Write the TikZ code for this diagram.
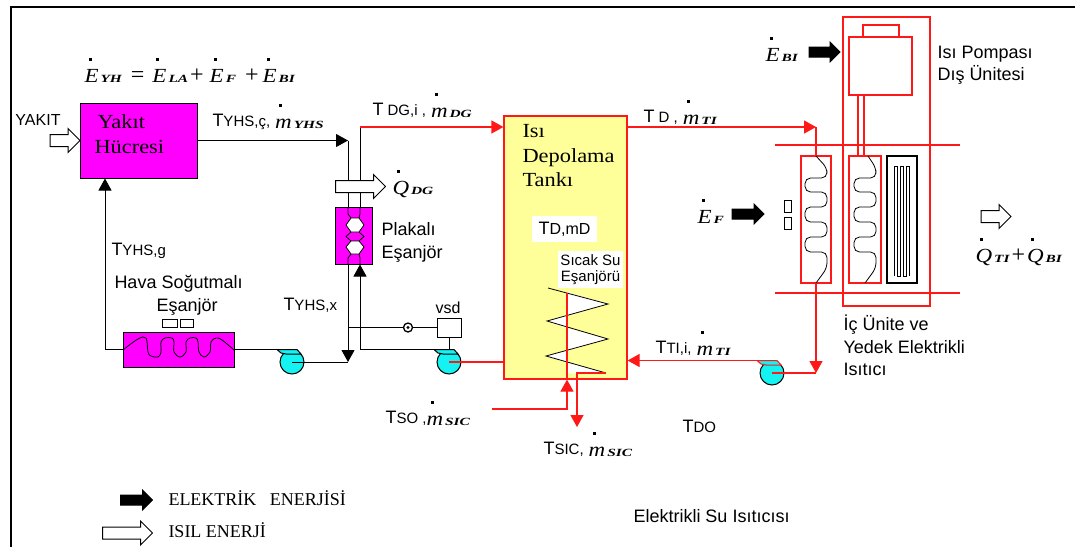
\documentclass[tikz,border=0pt]{standalone}
\usepackage{fontspec}
\setmainfont{Liberation Serif}
\setsansfont{Liberation Sans}
\newfontfamily\widefont[FakeStretch=1.12]{Liberation Serif}
\newfontface\letterfont[FakeStretch=1.15]{Liberation Serif Italic}
\newfontface\subfont[FakeStretch=1.4]{Liberation Serif Bold Italic}
\usepackage{tikz}
\usetikzlibrary{arrows.meta,shapes.arrows}
\definecolor{cellmag}{HTML}{FF00FF}
\definecolor{tankyel}{HTML}{FFFF99}
\definecolor{pumpcy}{HTML}{14F2F2}
\definecolor{hotred}{HTML}{FF1818}
\newcommand{\sz}[1]{\fontsize{#1}{#1}\selectfont}
\newcommand{\rate}[2]{\rlap{\hspace{4pt}\raisebox{21.5pt}{\rule{3pt}{3pt}}}{\letterfont\sz{20}#1}\hspace{2pt}{\subfont\sz{11}#2}}
\newcommand{\mrate}[1]{\raisebox{-2pt}{\rate{m}{#1}}}
\newcommand{\tmp}[1]{{\sz{18}T}{\sz{15}#1}}
\newcommand{\op}[1]{{\rmfamily\sz{24}#1}}
\newcommand{\pump}[4]{%
  \node[pumpbody] (#1) at (#2,#3) {};
  \draw[draw=#4, fill=pumpcy] (#2-15,#3-12.5) -- (#2+5,#3-12.5) -- (#2+9,#3-8) -- (#2-6,#3-8) -- (#2-11,#3-9) -- cycle;
  \coordinate (#1in) at (#2-15,#3-12.5);
}
\newcommand{\coil}[2]{%
  \draw[coilline, rounded corners=5.5pt] (#2,156) -- (#1+11,168) -- (#1+11,178) -- (#1-11,178) -- (#1-11,192) -- (#1+11,192) -- (#1+11,207) -- (#1-11,207) -- (#1-11,222) -- (#1+11,222) -- (#1+11,237) -- (#1-11,237) -- (#1-11,252) -- (#1+11,252) -- (#1+11,268) -- (#1,283);
}

\begin{document}
\begin{tikzpicture}[
  x=1pt, y=-1pt,
  line width=1pt,
  lbl/.style={anchor=base west, inner sep=0pt, font=\sffamily\sz{18}},
  serif/.style={anchor=base west, inner sep=0pt, font=\widefont\sz{20}},
  box/.style={rectangle, draw, inner sep=0pt},
  magbox/.style={box, fill=cellmag},
  redbox/.style={box, draw=hotred, line width=1.2pt},
  flow/.style={draw=black},
  hot/.style={draw=hotred, line width=1.2pt},
  wall/.style={hotred, line width=1.2pt},
  coilline/.style={draw=black, line width=0.8pt},
  pumpbody/.style={circle, draw, fill=pumpcy, minimum size=24pt, inner sep=0pt},
  power/.style={single arrow, draw, fill=black, inner sep=0pt, text height=9pt, text depth=0pt, single arrow head extend=5pt},
  heat/.style={single arrow, draw, fill=white, inner sep=0pt, text height=11pt, text depth=0pt, single arrow head extend=6pt},
  >={Triangle[length=12pt,width=13pt]}
]
\useasboundingbox (0,0) rectangle (1075,547);
\draw[line width=2pt] (1075,6.5) -- (10.5,6.5) -- (10.5,547);

% fuel cell and its loop
\node[magbox, minimum width=117pt, minimum height=75pt] (cell) at (138.5,140.5) {};
\node[serif] (cellA) at (97,128) {Yakıt};
\node[serif] (cellB) at (94,153) {Hücresi};
\node[heat, minimum height=30pt] (fuel) at (62,140.5) {};
\node[lbl, font=\sffamily\sz{16}] (fuellbl) at (15,125) {YAKIT};
\node[inner sep=0pt, anchor=base west] (bal) at (84,82) {\rate{E}{YH}\hspace{9pt}\op{=}\hspace{8pt}\rate{E}{LA}\hspace{2pt}\op{+}\hspace{6pt}\rate{E}{F}\hspace{9pt}\op{+}\hspace{4pt}\rate{E}{BI}};

\node[magbox, minimum width=111pt, minimum height=35pt] (airex) at (178.5,349.5) {};
\draw[coilline] plot[smooth, tension=0.6] coordinates {(123,350) (138,339) (146,338) (148,352) (151,356) (158,357) (161,352) (161,342) (165,338) (172,338) (174,342) (174,352) (180,357) (186,352) (186,342) (190,338) (196,338) (198,342) (199,352) (204,357) (210,352) (211,342) (216,338) (222,340) (234,350)};
\node[box, minimum width=15pt, minimum height=8pt] (fanA) at (169.5,323) {};
\node[box, minimum width=13pt, minimum height=8pt] (fanB) at (186.5,323) {};

\node[magbox, minimum width=37pt, minimum height=57pt] (plate) at (353.5,235.5) {};
\draw[coilline, fill=white] (346,225) -- (351,218) -- (359,218) -- (364,225) -- (359,232) -- (351,232) -- cycle;
\draw[coilline, fill=white] (346,247) -- (351,241) -- (359,241) -- (364,247) -- (359,254) -- (351,254) -- cycle;
\draw[coilline] (351,232) -- (346,236.5) -- (351,241) (359,232) -- (364,236.5) -- (359,241);
\draw[coilline] (348,207) -- (348,214) -- (351,218) (360,207) -- (360,214) -- (359,218);
\draw[coilline] (348,264) -- (348,258) -- (351,254) (360,264) -- (360,258) -- (359,254);

\pump{pumpA}{292}{362}{black}
\pump{pumpB}{449}{362}{black}
\pump{pumpC}{772}{373}{hotred}
\node[box, minimum width=24pt, minimum height=19pt] (vsd) at (449,327.5) {};

\coordinate (hxL) at (348,140.5);
\coordinate (hxR) at (360,127);
\coordinate (mixA) at (348,362);
\coordinate (tapA) at (348,327.5);
\coordinate (backR) at (360,349.5);
\coordinate (backL) at (105,349.5);

\draw[flow,->] (cell.east) -- (hxL);
\draw[flow] (hxL) -- (plate.north -| hxL);
\draw[flow] (plate.north -| hxR) -- (hxR);
\draw[flow,->] (plate.south -| mixA) -- (mixA);
\draw[flow] (pumpA.center) -- (mixA);
\draw[flow] (airex.east) -- (pumpAin);
\draw[flow,->] (airex.west) -- (backL) -- (cell.south -| backL);
\draw[flow,->] (pumpBin) -- (backR) -- (plate.south -| backR);
\draw[flow] (tapA) -- (vsd);
\draw[flow] (vsd.south) -- (vsd.south |- pumpBin);
\node[circle, draw, fill=white, minimum size=9pt, inner sep=0pt, line width=1.3pt] (sensor) at (408,327.5) {};
\fill (sensor) circle (1.6pt);
\node[heat, minimum height=50pt] (qdg) at (357.5,186.5) {};

% storage tank
\node[box, draw=hotred, line width=1.2pt, fill=tankyel, minimum width=123pt, minimum height=263pt] (tank) at (565.5,247.5) {};
\node[serif] (tankA) at (522,137) {Isı};
\node[serif] (tankB) at (522,162) {Depolama};
\node[serif] (tankC) at (522,186) {Tankı};
\node[fill=white, inner sep=0pt, minimum width=65pt, minimum height=26pt] (tanktemp) at (564.5,229) {\sffamily\sz{18}T\sz{16}D,mD};
\node[fill=white, inner sep=0pt, minimum width=65pt, minimum height=37pt, align=center, font=\sffamily\sz{15}] (hwlbl) at (590.5,269.5) {Sıcak Su\\[1pt]Eşanjörü};

\coordinate (hwTop) at (567,293);
\coordinate (hwIn) at (567,409);
\coordinate (hwInL) at (492,409);
\coordinate (hwEnd) at (606,373);
\coordinate (hwBend) at (577,373);
\coordinate (hwOut) at (577,427);
\fill[white] (567,292) -- (608,304) -- (567,316) -- (547,321) -- (567,328) -- (608,339) -- (567,351) -- (546,356) -- (567,362) -- (606,373) -- (567,373) -- cycle;
\draw[coilline] (548,288) -- (608,304) -- (547,321) -- (608,339) -- (546,356) -- (hwEnd);
\draw[hot,->] (hwInL) -- (hwIn) -- (tank.south -| hwIn);
\draw[hot] (tank.south -| hwIn) -- (hwTop);
\draw[hot,->] (hwEnd) -- (hwBend) -- (hwOut);

\coordinate (coilIn) at (816,127);
\coordinate (coilOut) at (816,373);
\draw[hot,->] (hxR) -- (tank.west |- hxR);
\draw[hot] (pumpB.center) -- (tank.west |- pumpB);
\draw[hot,->] (tank.east |- coilIn) -- (coilIn);
\draw[hot,->] (pumpCin) -- (tank.east |- pumpCin);

% heat pump and indoor unit
\node[redbox, minimum width=87pt, minimum height=289pt] (pumpunit) at (886.5,161.5) {};
\node[redbox, minimum width=63pt, minimum height=58pt] (comp) at (880.5,66) {};
\node[redbox, minimum width=36pt, minimum height=12pt] (comptop) at (881,31) {};
\node[redbox, minimum width=30pt, minimum height=127pt] (coilA) at (816,219.5) {};
\node[redbox, minimum width=32pt, minimum height=127pt] (coilB) at (865,219.5) {};
\node[box, line width=1.1pt, minimum width=30pt, minimum height=127pt] (heater) at (902,219.5) {};
\coil{816}{816}
\coil{865}{868}
\draw[coilline, line width=0.7pt] (894,276) -- (894,166) -- (897,166) -- (897,276) -- (900,276) -- (900,166) -- (903,166) -- (903,276) -- (906,276) -- (906,166) -- (909,166) -- (909,276);
\draw[hot] ([xshift=-22.5pt]comp.south) -- ([xshift=-22.5pt]comp.south |- coilB.north);
\draw[hot] ([xshift=-16.5pt]comp.south) -- ([xshift=-16.5pt]comp.south |- coilB.north);
\draw[wall] (775,145) -- (960,145);
\draw[wall] (775,293) -- (960,293);
\draw[hot] (coilIn) -- (coilA.north);
\draw[hot,->] (coilA.south) -- (coilOut);
\draw[hot] (pumpC.center) -- (coilOut);
\node[box, minimum width=7pt, minimum height=12.5pt] (fanC) at (787.5,206.5) {};
\node[box, minimum width=7pt, minimum height=12.5pt] (fanD) at (787.5,223.5) {};
\node[power, minimum height=31pt] (powbi) at (822,52) {};
\node[power, minimum height=32pt] (powf) at (745.5,214) {};
\node[heat, minimum height=30pt] (heatout) at (993,216.5) {};

% labels
\node[lbl] (tcell) at (212,126) {\tmp{YHS,ç,} \mrate{YHS}};
\node[lbl] (tin) at (111,255) {\tmp{YHS,g}};
\node[lbl] (hava) at (114,288) {Hava Soğutmalı};
\node[lbl] (esan) at (156,311) {Eşanjör};
\node[lbl] (tx) at (283,310) {\tmp{YHS,x}};
\node[lbl, font=\sffamily\sz{16}] (vsdlbl) at (435,313) {vsd};
\node[lbl] (plakali) at (381,235) {Plakalı};
\node[lbl] (plesan) at (381,258) {Eşanjör};
\node[lbl] (tdg) at (372,115) {\tmp{ DG,i ,} \mrate{DG}};
\node[lbl] (qdglbl) at (392,194) {\rate{Q}{DG}};
\node[lbl] (td) at (643,122) {\tmp{ D ,} \mrate{TI}};
\node[lbl] (eb) at (765,61) {\rate{E}{BI}};
\node[lbl] (ef) at (697,223) {\rate{E}{F}};
\node[lbl] (qout) at (975,262) {\rate{Q}{TI}\hspace{2pt}\op{+}\hspace{2pt}\rate{Q}{BI}};
\node[lbl] (hpA) at (937,58) {Isı Pompası};
\node[lbl] (hpB) at (937,80) {Dış Ünitesi};
\node[lbl] (inA) at (843,330) {İç Ünite ve};
\node[lbl] (inB) at (843,353) {Yedek Elektrikli};
\node[lbl] (inC) at (843,375) {Isıtıcı};
\node[lbl] (tti) at (655,353) {\tmp{TI,i,} \mrate{TI}};
\node[lbl] (tso) at (385,423) {\tmp{SO ,}\mrate{SIC}};
\node[lbl] (tsic) at (543,454) {\tmp{SIC,} \mrate{SIC}};
\node[lbl] (tdo) at (682,432) {\tmp{DO}};
\node[lbl] (esi) at (633,522) {Elektrikli Su Isıtıcısı};

% legend
\node[power, minimum height=32pt] (keypow) at (134,500) {};
\node[heat, minimum height=50pt] (keyheat) at (124.5,533) {};
\node[serif, font=\rmfamily\sz{18}] (keypowlbl) at (168,505) {ELEKTRİK\ \ \ ENERJİSİ};
\node[serif, font=\rmfamily\sz{18}] (keyheatlbl) at (168,537) {ISIL ENERJİ};
\end{tikzpicture}
\end{document}
